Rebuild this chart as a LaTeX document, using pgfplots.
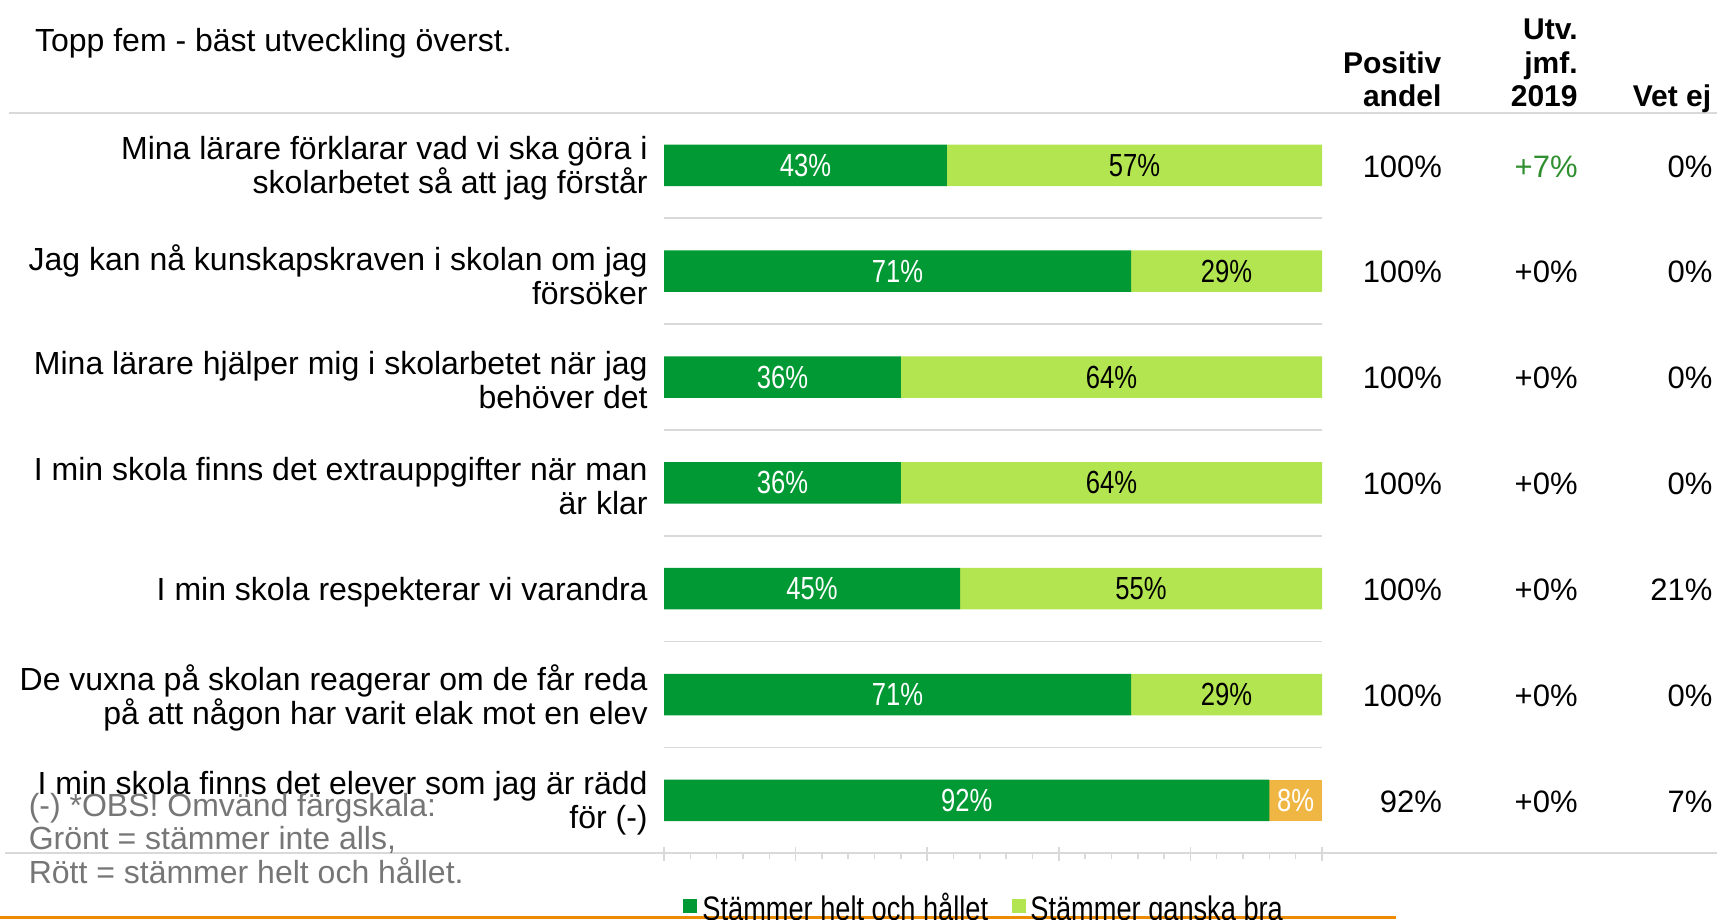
\documentclass[border=0pt]{standalone}
\usepackage{pgfplots}
\usepackage{pgfplotstable}
\pgfplotsset{compat=1.18}
\usepackage{fontspec}
\setmainfont{Liberation Sans}
\newfontfamily\narrowfont[FakeStretch=0.8]{Liberation Sans}
\definecolor{dgreen}{RGB}{0,153,51}
\definecolor{lgreen}{RGB}{179,229,80}
\definecolor{orng}{RGB}{240,182,67}
\definecolor{gridgray}{RGB}{217,217,217}
\definecolor{notegray}{RGB}{118,118,118}
\definecolor{posgreen}{RGB}{47,143,47}
\definecolor{lineorange}{RGB}{237,139,0}

\pgfplotstableread{
row helt ganska inte
1 43 57 0
2 71 29 0
3 36 64 0
4 36 64 0
5 45 55 0
6 71 29 0
7 92 0 8
}\data

\begin{document}
\begin{tikzpicture}
\begin{axis}[
  x=3.29pt, y=52.925pt, y dir=reverse,
  xmin=-100.91, xmax=160.03, ymin=-0.5617, ymax=8.1204,
  axis lines=none, clip=false,
  xbar stacked, bar width=20.75pt,
]
\addplot[fill=dgreen, draw=none] table[x=helt, y=row]{\data};
\addplot[fill=lgreen, draw=none] table[x=ganska, y=row]{\data};
\addplot[fill=orng, draw=none] table[x=inte, y=row]{\data};
\coordinate (O) at (axis cs:0,0);
\end{axis}
\begin{scope}[shift={(O)}, x=3.29pt, y=-52.925pt]
% row separators
\foreach \r in {1.5,2.5,3.5,4.5,5.5,6.5}
  \draw[gridgray, line width=0.75pt] (0,\r) -- (100,\r);
% header line
\draw[gridgray, line width=1pt] (-99.54,0.5068) -- (160.03,0.5068);
% bottom axis line
\draw[gridgray, line width=1pt] (-100.15,7.5) -- (160.03,7.5);
\foreach \t in {4,8,12,16,24,28,32,36,44,48,52,56,64,68,72,76,84,88,92,96}
  \draw[gridgray, line width=0.75pt] (\t,7.5) -- (\t,7.55);
\foreach \t in {0,20,40,60,80,100}
  \draw[gridgray, line width=0.75pt] (\t,7.44) -- (\t,7.57);
% bottom orange line
\draw[lineorange, line width=1.5pt] (-100.91,8.1015) -- (111.25,8.1015);

% title
\node[anchor=base west, inner sep=0pt, font=\fontsize{16}{17}\selectfont] at (-95.64,-0.073) {Topp fem - bäst utveckling överst.};

% column headers
\begin{scope}[every node/.style={inner sep=0pt, font=\fontsize{15}{15.75}\selectfont\bfseries}]
\node[anchor=base east] at (118.2,0.131) {Positiv};
\node[anchor=base east] at (118.2,0.445) {andel};
\node[anchor=base east] at (138.9,-0.190) {Utv.};
\node[anchor=base east] at (138.9,0.131) {jmf.};
\node[anchor=base east] at (138.9,0.445) {2019};
\node[anchor=base east] at (159.2,0.445) {Vet ej};
\end{scope}

% row labels
\begin{scope}[every node/.style={anchor=east, align=right, inner sep=0pt, font=\fontsize{16}{17}\selectfont}]
\node at (-2.43,1.031) {Mina lärare förklarar vad vi ska göra i\hspace{7.5pt}\\skolarbetet så att jag förstår};
\node at (-2.43,2.031) {Jag kan nå kunskapskraven i skolan om jag\\försöker};
\node at (-2.43,3.031) {Mina lärare hjälper mig i skolarbetet när jag\\behöver det};
\node at (-2.43,4.031) {I min skola finns det extrauppgifter när man\\är klar};
\node at (-2.43,5.031) {I min skola respekterar vi varandra};
\node at (-2.43,6.031) {De vuxna på skolan reagerar om de får reda\\på att någon har varit elak mot en elev};
\node at (-2.43,7.031) {I min skola finns det elever som jag är rädd\\för (-)};
\end{scope}

% value columns
\begin{scope}[every node/.style={anchor=east, inner sep=0pt, font=\fontsize{15.5}{16}\selectfont}]
\node at (118.3,1.01) {100\%};
\node at (118.3,2.01) {100\%};
\node at (118.3,3.01) {100\%};
\node at (118.3,4.01) {100\%};
\node at (118.3,5.01) {100\%};
\node at (118.3,6.01) {100\%};
\node at (118.3,7.01) {92\%};
\node[text=posgreen] at (138.9,1.01) {+7\%};
\node at (138.9,2.01) {+0\%};
\node at (138.9,3.01) {+0\%};
\node at (138.9,4.01) {+0\%};
\node at (138.9,5.01) {+0\%};
\node at (138.9,6.01) {+0\%};
\node at (138.9,7.01) {+0\%};
\node at (159.4,1.01) {0\%};
\node at (159.4,2.01) {0\%};
\node at (159.4,3.01) {0\%};
\node at (159.4,4.01) {0\%};
\node at (159.4,5.01) {21\%};
\node at (159.4,6.01) {0\%};
\node at (159.4,7.01) {7\%};
\end{scope}

% bar labels
\begin{scope}[every node/.style={anchor=center, inner sep=0pt, font=\narrowfont\fontsize{16}{16}\selectfont}]
\node[text=white] at (21.5,1) {43\%};
\node at (71.5,1) {57\%};
\node[text=white] at (35.5,2) {71\%};
\node at (85.5,2) {29\%};
\node[text=white] at (18,3) {36\%};
\node at (68,3) {64\%};
\node[text=white] at (18,4) {36\%};
\node at (68,4) {64\%};
\node[text=white] at (22.5,5) {45\%};
\node at (72.5,5) {55\%};
\node[text=white] at (35.5,6) {71\%};
\node at (85.5,6) {29\%};
\node[text=white] at (46,7) {92\%};
\node[text=white] at (96,7) {8\%};
\end{scope}

% note
\begin{scope}[every node/.style={anchor=base west, inner sep=0pt, text=notegray, font=\fontsize{16}{17}\selectfont}]
\node at (-96.6,7.1474) {(-) *OBS! Omvänd färgskala:};
\node at (-96.6,7.4638) {Grönt = stämmer inte alls,};
\node at (-96.6,7.7803) {Rött = stämmer helt och hållet.};
\end{scope}

% legend
\fill[dgreen] (2.89,7.932) rectangle (5.02,8.0646);
\fill[lgreen] (52.89,7.932) rectangle (55.02,8.0646);
\node[anchor=base west, inner sep=0pt, font=\narrowfont\fontsize{17}{17}\selectfont] at (5.78,8.139) {Stämmer helt och hållet};
\node[anchor=base west, inner sep=0pt, font=\narrowfont\fontsize{17}{17}\selectfont] at (55.62,8.139) {Stämmer ganska bra};
\end{scope}
\pgfresetboundingbox
\useasboundingbox (current axis.south west) rectangle (current axis.north east);
\end{tikzpicture}
\end{document}
